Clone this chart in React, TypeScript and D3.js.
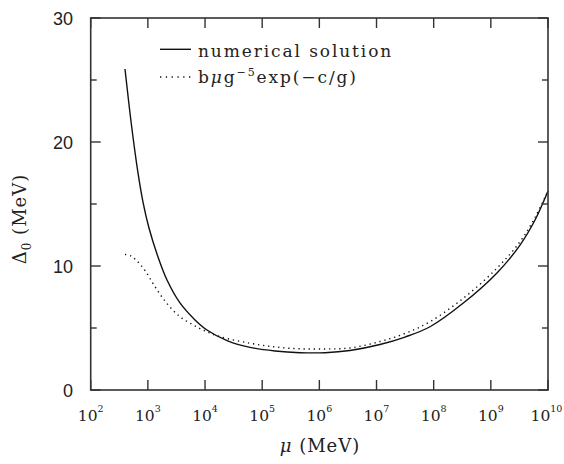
import React from "react";
import * as d3 from "d3";

// mu (MeV) and gap Delta_0 (MeV) for the numerical solution
const solidMu = [398, 521, 671, 822, 1047, 1445, 2163, 3648, 6683, 1.08e4, 2.43e4, 6.12e4, 1.68e5, 4.59e5, 1.26e6, 3.44e6, 1.15e7, 3.15e7, 8.63e7, 3.26e8, 1.28e9, 3.24e9, 5.93e9, 1e10];
const solidDelta = [25.89, 21.23, 17.53, 15.16, 13.06, 10.97, 8.87, 7.02, 5.65, 4.84, 3.99, 3.44, 3.15, 3.01, 3.01, 3.19, 3.67, 4.27, 5.1, 6.99, 9.44, 11.69, 13.71, 16.05];

// approximation b mu g^-5 exp(-c/g)
const dotMu = [398, 507, 646, 891, 1334, 2138, 3648, 6237, 1.0e4, 1.83e4, 6.12e4, 1.68e5, 4.59e5, 1.26e6, 3.44e6, 1.15e7, 3.15e7, 8.63e7, 3.3e8, 1.27e9, 3.24e9, 5.93e9, 1e10];
const dotDelta = [10.93, 10.81, 10.4, 9.64, 8.33, 7.0, 5.91, 5.24, 4.76, 4.3, 3.77, 3.47, 3.32, 3.31, 3.39, 3.91, 4.56, 5.51, 7.4, 9.81, 11.96, 13.91, 16.05];

const xTickExps = [2, 3, 4, 5, 6, 7, 8, 9, 10];
const yMajorTicks = [0, 10, 20, 30];
const yMinorTicks = [5, 15, 25];

const W = 564;
const H = 464;
const L = 90.7, R = 548, T = 18, B = 390;
const SERIF = "'DejaVu Serif', serif";
const SANS = "'Liberation Sans', Arial, sans-serif";
const AXC = "#333";

export default function App() {
  const x = d3.scaleLog().domain([1e2, 1e10]).range([L, R]);
  const y = d3.scaleLinear().domain([0, 30]).range([B, T]);
  const line = d3
    .line<[number, number]>()
    .x((d) => x(d[0]))
    .y((d) => y(d[1]))
    .curve(d3.curveCatmullRom.alpha(0.5));
  const solidPath = line(solidMu.map((m, i) => [m, solidDelta[i]] as [number, number])) || "";
  const dotPath = line(dotMu.map((m, i) => [m, dotDelta[i]] as [number, number])) || "";

  return (
    <svg width={W} height={H} style={{ position: "absolute", left: 0, top: 0, background: "#fff" }}>
      <rect x={0} y={0} width={W} height={H} fill="#fff" />
      {/* curves */}
      <path d={solidPath} fill="none" stroke="#111" strokeWidth={1.4} />
      <path d={dotPath} fill="none" stroke="#111" strokeWidth={1.4} strokeDasharray="1.3 3.8" />

      {/* frame */}
      <rect x={L} y={T} width={R - L} height={B - T} fill="none" stroke={AXC} strokeWidth={1.6} />

      {/* x ticks */}
      {xTickExps.map((e) => {
        const px = x(Math.pow(10, e));
        return (
          <g key={"xt" + e}>
            <line x1={px} x2={px} y1={B} y2={B - 10} stroke={AXC} strokeWidth={1.4} />
            <line x1={px} x2={px} y1={T} y2={T + 10} stroke={AXC} strokeWidth={1.4} />
            <text x={px - (e === 10 ? 1.5 : 0)} y={420.5} textAnchor="middle" fontFamily={SERIF} fontSize={15.5} fill="#222">
              10
              <tspan dy={-9} fontSize={9.5}>{e}</tspan>
            </text>
          </g>
        );
      })}

      {/* y ticks */}
      {yMajorTicks.map((v) => (
        <g key={"ym" + v}>
          <line x1={L} x2={L + 10} y1={y(v)} y2={y(v)} stroke={AXC} strokeWidth={1.4} />
          <line x1={R} x2={R - 10} y1={y(v)} y2={y(v)} stroke={AXC} strokeWidth={1.4} />
          <text x={73} y={y(v) + 6.5} textAnchor="end" fontFamily={SANS} fontSize={18} fill="#222">
            {v}
          </text>
        </g>
      ))}
      {yMinorTicks.map((v) => (
        <g key={"yn" + v}>
          <line x1={L} x2={L + 6} y1={y(v)} y2={y(v)} stroke={AXC} strokeWidth={1.4} />
          <line x1={R} x2={R - 6} y1={y(v)} y2={y(v)} stroke={AXC} strokeWidth={1.4} />
        </g>
      ))}

      {/* axis labels */}
      <text x={320} y={452} textAnchor="middle" fontFamily={SERIF} fontSize={18} letterSpacing={1} fill="#222">
        <tspan fontStyle="italic">μ</tspan> (MeV)
      </text>
      <text
        transform={`translate(26, 219) rotate(-90)`}
        textAnchor="middle"
        fontFamily={SERIF}
        fontSize={18}
        letterSpacing={1}
        fill="#222"
      >
        Δ<tspan dy={5} fontSize={12}>0</tspan>
        <tspan dy={-5}> (MeV)</tspan>
      </text>

      {/* legend */}
      <line x1={160} x2={191} y1={49.3} y2={49.3} stroke="#111" strokeWidth={1.4} />
      <text x={198} y={56.5} fontFamily={SERIF} fontSize={17} letterSpacing={1.9} fill="#222">
        numerical solution
      </text>
      <line x1={160} x2={191} y1={77} y2={77} stroke="#111" strokeWidth={1.4} strokeDasharray="1.3 4.5" />
      <text x={198} y={83} fontFamily={SERIF} fontSize={17} letterSpacing={1.9} fill="#222">
        b<tspan fontStyle="italic">μ</tspan>g<tspan dy={-7} fontSize={11}>−5</tspan>
        <tspan dy={7}>exp(−c/g)</tspan>
      </text>
    </svg>
  );
}
